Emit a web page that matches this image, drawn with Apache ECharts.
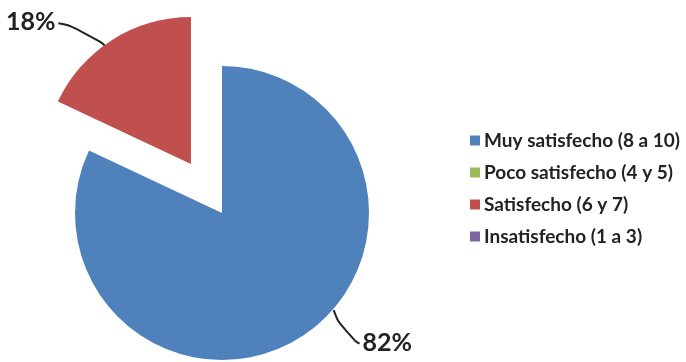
<!DOCTYPE html>
<html>
<head>
<meta charset="utf-8">
<script src="https://cdn.jsdelivr.net/npm/echarts@6/dist/echarts.min.js"></script>
<style>
html,body{margin:0;padding:0;background:#fff;}
#c{width:686px;height:362px;}
</style>
</head>
<body>
<div id="c"></div>
<script>
var categories = ['Muy satisfecho (8 a 10)', 'Poco satisfecho (4 y 5)', 'Satisfecho (6 y 7)', 'Insatisfecho (1 a 3)'];
var values = [82, 0, 18, 0];
var colors = ['#4F81BD', '#9BBB59', '#C0504D', '#8064A2'];
var exploded = [false, false, true, false];

var CENTER = [222, 213];
var RADIUS = 147;
var OFFSET = 58;

// point on the pie arc (before the explode shift, which ECharts applies to
// the slice, its label and its label line together), angle clockwise from 12 o'clock
function arcPoint(angDeg, r) {
  var a = angDeg * Math.PI / 180;
  return [CENTER[0] + r * Math.sin(a), CENTER[1] - r * Math.cos(a)];
}

var chart = echarts.init(document.getElementById('c'), null, {renderer: 'canvas'});
var data = categories.map(function (name, i) {
  var item = {name: name, value: values[i], itemStyle: {color: colors[i]}, selected: exploded[i]};
  if (values[i] === 0) {
    item.label = {show: false};
    item.labelLine = {show: false};
  }
  return item;
});
chart.setOption({
  animation: false,
  legend: {
    orient: 'vertical',
    left: 465,
    top: 126,
    itemWidth: 10,
    itemHeight: 10,
    itemGap: 13,
    icon: 'rect',
    selectedMode: false,
    textStyle: {fontFamily: 'Lato', fontWeight: 'bold', fontSize: 19, color: '#222', padding: [0, 0, 0, -1]},
    data: categories
  },
  series: [{
    type: 'pie',
    center: CENTER,
    radius: [0, RADIUS],
    startAngle: 90,
    clockwise: true,
    selectedMode: 'single',
    selectedOffset: OFFSET,
    percentPrecision: 0,
    avoidLabelOverlap: false,
    emphasis: {disabled: true},
    label: {
      show: true,
      position: 'outside',
      formatter: '{d}%',
      fontFamily: 'Lato',
      fontWeight: 'bold',
      fontSize: 25,
      color: '#222'
    },
    labelLine: {
      show: true,
      length: 22,
      length2: 38,
      smooth: 0.8,
      lineStyle: {color: '#222', width: 2}
    },
    labelLayout: function (p) {
      var r = p.labelRect;
      var dx, dy, s, ex, ey;
      if (p.dataIndex === 0) {
        dx = 7; dy = -13;
        ex = r.x + dx - 3; ey = r.y + dy + r.height / 2 + 1;
        s = arcPoint(131, RADIUS + 1);
      } else if (p.dataIndex === 2) {
        dx = -2; dy = 1;
        ex = r.x + r.width + dx + 3; ey = r.y + dy + r.height / 2 + 1;
        s = arcPoint(324, RADIUS - 1);
      } else {
        return {};
      }
      var mx = s[0] + 0.35 * (ex - s[0]), my = s[1] + 0.75 * (ey - s[1]);
      return {dx: dx, dy: dy, labelLinePoints: [s, [mx, my], [ex, ey]]};
    },
    data: data
  }]
});
</script>
</body>
</html>
